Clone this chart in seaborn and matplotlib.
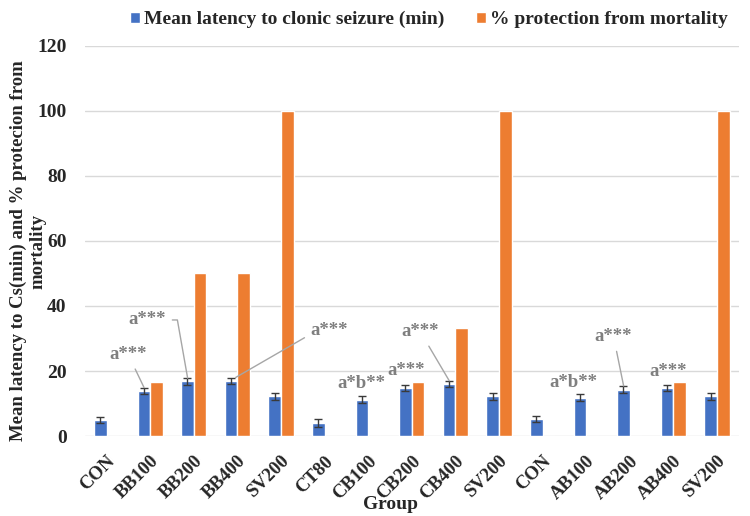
import pandas as pd
import matplotlib
matplotlib.use('Agg')
import matplotlib.pyplot as plt
import seaborn as sns

# values
groups = ['CON', 'BB100', 'BB200', 'BB400', 'SV200', 'CT80', 'CB100', 'CB200',
          'CB400', 'SV200', 'CON', 'AB100', 'AB200', 'AB400', 'SV200']
latency = [5.0, 13.8, 16.8, 17.0, 12.2, 4.0, 11.2, 14.8, 16.0, 12.2, 5.2, 11.8, 14.3, 14.7, 12.2]
latency_err = [1.0, 1.0, 1.0, 1.0, 1.0, 1.2, 1.0, 1.0, 1.0, 1.0, 1.0, 1.0, 1.0, 1.0, 1.0]
protection = [0, 16.7, 50, 50, 100, 0, 0, 16.7, 33.3, 100, 0, 0, 0, 16.7, 100]

series_names = ['Mean latency to clonic seizure (min)', '% protection from mortality']
ylabel_lines = ['Mean latency to Cs(min) and % protecion from', 'mortality']

# annotation text, text position (slot, value), arrow target or None, connection
notes = [
    ('a***', (0.5, 25.0), (0.86, 14.9), 'arc3'),
    ('a***', (0.94, 35.7), (1.86, 17.8), 'angle,angleA=0,angleB=100,rad=0'),
    ('a***', (5.1, 32.6), (2.96, 18.0), 'angle,angleA=0,angleB=30,rad=0'),
    ('a*b**', (5.85, 16.3), None, None),
    ('a***', (6.88, 20.3), None, None),
    ('a***', (7.2, 32.0), (7.86, 17.0), 'arc3'),
    ('a*b**', (10.7, 16.6), None, None),
    ('a***', (11.63, 30.5), (11.86, 15.4), 'arc3'),
    ('a***', (12.87, 19.7), None, None),
]

slots = [str(i) for i in range(len(groups))]
df = pd.DataFrame({
    'slot': slots * 2,
    'value': latency + protection,
    'series': [series_names[0]] * len(slots) + [series_names[1]] * len(slots),
})

sns.set_style('white')
plt.rcParams['font.family'] = ['Liberation Serif', 'DejaVu Serif']
plt.rcParams['font.weight'] = 'bold'

fig = plt.figure(figsize=(7.5, 5.16), dpi=100)
ax = fig.add_axes([0.113, 0.155, 0.872, 0.756])

sns.barplot(data=df, x='slot', y='value', hue='series', order=slots,
            palette=['#4472C4', '#ED7D31'], width=0.58, saturation=1,
            errorbar=None, ax=ax)

# error bars on the latency bars
blue_bars = ax.containers[0]
xs = [p.get_x() + p.get_width() / 2 for p in blue_bars]
ax.errorbar(xs, latency, yerr=latency_err, fmt='none', ecolor='#3a3a3a',
            elinewidth=1, capsize=3, capthick=1)

ax.set_xlim(-0.5, len(groups) - 0.5)
ax.set_ylim(0, 120)
ax.set_yticks(range(0, 121, 20))
ax.yaxis.grid(True, color='#d9d9d9', lw=1)
ax.set_axisbelow(True)
for s in ax.spines.values():
    s.set_visible(False)
ax.tick_params(axis='y', length=0, labelsize=14, pad=13)
ax.tick_params(axis='x', length=0, labelsize=13.5, pad=12)
ax.set_xticks(range(len(groups)))
ax.set_xticklabels(groups, rotation=45, ha='right', rotation_mode='anchor',
                   fontweight='bold')
for t in ax.get_yticklabels():
    t.set_fontweight('bold')

ax.set_xlabel('Group', fontsize=14, fontweight='bold')
ax.xaxis.set_label_coords(0.468, -0.155)
ax.set_ylabel('')
# y label is two centred lines; written as two texts
ax.text(-0.102, 0.474, ylabel_lines[0], transform=ax.transAxes, rotation=90,
        ha='center', va='center', fontsize=13.5, fontweight='bold')
ax.text(-0.072, 0.474, ylabel_lines[1], transform=ax.transAxes, rotation=90,
        ha='center', va='center', fontsize=13.5, fontweight='bold')

for txt, xy_text, xy_tip, conn in notes:
    if xy_tip is None:
        ax.text(xy_text[0], xy_text[1], txt, ha='center', va='center',
                color='#7f7f7f', fontsize=13.5, fontweight='bold')
    else:
        ax.annotate(txt, xy=xy_tip, xytext=xy_text, ha='center', va='center',
                    color='#7f7f7f', fontsize=13.5, fontweight='bold',
                    arrowprops=dict(arrowstyle='-', color='#a6a6a6', lw=1,
                                    shrinkA=2, shrinkB=0, connectionstyle=conn))

handles, labels = ax.get_legend_handles_labels()
ax.legend(handles, labels, loc='center', bbox_to_anchor=(0.572, 0.962),
          bbox_transform=fig.transFigure, ncol=2, frameon=False,
          handlelength=0.5, handleheight=0.5, handletextpad=0.25,
          columnspacing=1.6, prop={'size': 14, 'weight': 'bold'})

fig.savefig('out.png', dpi=100)
